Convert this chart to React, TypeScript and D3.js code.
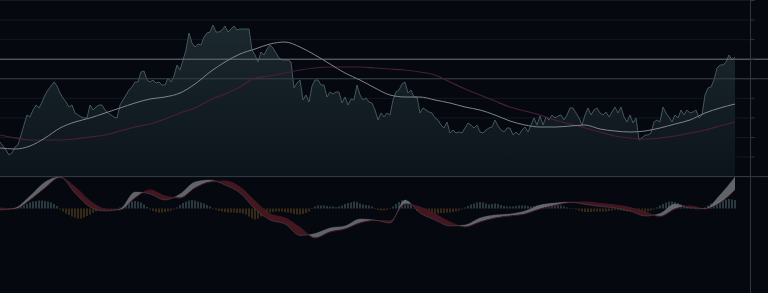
import React from 'react';
import * as d3 from 'd3';

const W = 768;
const H = 293;
const X_END = 735;
const AXIS_X = 750.5;

// daily close prices (one value per session)
const price = [
  129,127,125,122.5,123.5,126.5,127.5,132.5,137.5,142.5,
  141.5,145,147.5,146,149,152.5,155,157,159,157,
  153.5,151,149,146.5,147.5,143.5,142.5,141.5,141,141,
  147.5,145,146.5,147.5,147.5,145,143.5,142.5,141.5,141,
  147.5,150,152.5,155,156.5,159,159,164,164.5,160,
  159,160,158.5,159,157.5,157.5,161,159,162,167.5,
  165,170,175,183.5,178.5,176.5,178,177.5,181.5,183.5,
  184,187.5,184,184,185,187,184,185.5,187,185,
  185.5,185.5,185.5,185.5,175,172.5,169,174,172.5,175.5,
  177.5,176,173.5,171,170,170,170,169,156,158.5,
  160,150,152.5,149,157,160,160,157.5,157.5,151.5,
  154,153,154,154,148.5,151.5,147.5,150.5,150,157.5,
  152.5,150,151,149,148.5,145,140,143.5,141.5,143.5,
  142.5,150,154,155,158,159,153.5,155,151.5,151.5,
  143.5,146,145,144,143.5,141,140,137.5,136,139,
  133.5,135,133.5,134,133.5,136,138.5,137.5,136,137.5,
  134,133.5,135,136,136.5,140,137,135,134,136,
  136,132.5,134,132.5,135,136.5,134,137.5,141,137.5,
  142,137.5,141.5,140,142.5,141,142,142.5,140,142.5,
  146,146,143.5,141,137.5,142.5,146,142.5,145,146,
  143.5,142.5,144,141.5,144,146.5,143.5,146.5,141.5,139,
  142.5,138.5,141,130,131,132.5,132.5,133.5,139,140,
  139,146.5,143.5,141.5,139,142.5,141,145,142.5,145,
  143.5,144,145,141,142.5,152.5,156,156.5,160,166,
  167.5,167.5,169,172.5,170,171.5,
];

// indicator series sampled every SAMPLE_STEP sessions
const SAMPLE_STEP = 5;
const maFast = [
  126,125.5,127,131,136,139,141,143.5,146,148.5,
  150.5,151.5,153.5,158,164,169,173,175.5,178,179,
  176.5,172.5,168,163.5,160,156,152.5,151.5,151.5,150,
  148.5,146.5,145,142.5,139.5,137.5,136.5,136.5,137,137.5,
  135.5,134.5,134,134.5,136,138,140,143.5,146,148,
];
const maSlow = [
  132.5,131,130,130,130,130.5,131.5,132.5,134.5,136.5,
  138,140.5,143.5,146,150,153,156.5,161,162,163.5,
  165,166,166.5,166.5,166.5,166,165.5,165,164,162.5,
  159,155.5,152.5,149.5,146.5,144.5,142.5,140,138,136,
  134,132,131,130.5,131,132,133.5,135,137,139,
];
const macd = [
  -0.15,0.05,1.25,2.65,3.15,1.55,0.15,-0.25,-0.05,1.65,
  1.45,0.85,1.45,2.65,2.85,2.35,1.55,-0.05,-1.15,-1.55,
  -2.7,-2.5,-1.95,-1.75,-1.05,-1.15,-1.45,0.85,-0.45,-1.15,
  -1.75,-1.65,-0.95,-0.65,-0.55,-0.25,0.35,0.55,0.65,0.4,
  0.2,0.05,-0.25,-0.75,-0.5,0.45,0.05,0,1.35,3.15,
];
const signal = [
  0.05,-0.05,0.85,2.05,3.1,2.15,0.75,-0.05,-0.15,1.05,
  1.85,1.25,1.05,2.05,2.65,2.75,2.15,0.75,-0.55,-0.95,
  -1.9,-2.95,-2.35,-2.05,-1.45,-1.2,-1.25,0.45,0.15,-0.55,
  -1.35,-1.85,-1.35,-0.95,-0.75,-0.55,-0.05,0.3,0.6,0.65,
  0.5,0.35,0.1,-0.35,-0.8,-0.05,0.25,-0.05,0.55,1.85,
];
// MACD histogram, one bar per session
const hist = [
  -0.1,-0.1,-0.1,-0.1,-0.05,0.05,0.1,0.2,0.3,0.45,
  0.6,0.7,0.75,0.8,0.8,0.75,0.7,0.6,0.45,0.25,
  -0.1,-0.3,-0.5,-0.65,-0.8,-0.9,-1.0,-1.0,-0.9,-0.75,
  -0.6,-0.45,-0.3,-0.2,-0.15,-0.1,-0.1,-0.1,-0.1,-0.05,
  0.1,0.2,0.4,0.55,0.7,0.75,0.7,0.6,0.4,0.15,
  -0.1,-0.25,-0.35,-0.4,-0.4,-0.35,-0.3,-0.2,-0.1,0.1,
  0.35,0.55,0.7,0.8,0.85,0.8,0.7,0.6,0.5,0.35,
  0.2,0.05,-0.15,-0.25,-0.3,-0.35,-0.4,-0.4,-0.4,-0.45,
  -0.45,-0.5,-0.6,-0.8,-1.0,-1.1,-1.0,-0.8,-0.6,-0.5,
  -0.4,-0.35,-0.3,-0.3,-0.3,-0.35,-0.4,-0.45,-0.55,-0.6,
  -0.6,-0.55,-0.45,-0.3,0.05,0.2,0.3,0.3,0.3,0.25,
  0.2,0.2,0.15,0.2,0.3,0.45,0.55,0.6,0.7,0.65,
  0.5,0.4,0.35,0.3,0.2,0.05,-0.15,-0.2,-0.2,-0.15,
  -0.05,0.2,0.45,0.65,0.8,0.85,0.7,0.4,-0.05,-0.25,
  -0.35,-0.4,-0.45,-0.5,-0.5,-0.5,-0.5,-0.45,-0.45,-0.4,
  -0.4,-0.35,-0.3,-0.2,-0.1,0.1,0.25,0.4,0.5,0.6,
  0.65,0.6,0.5,0.4,0.45,0.5,0.45,0.35,0.25,0.2,
  0.2,0.2,0.25,0.3,0.3,0.3,0.25,0.2,0.25,0.3,
  0.35,0.4,0.4,0.35,0.3,0.3,0.35,0.3,0.2,0.1,
  0.05,-0.05,-0.1,-0.2,-0.3,-0.35,-0.35,-0.35,-0.3,-0.3,
  -0.3,-0.3,-0.3,-0.25,-0.2,-0.15,-0.15,-0.2,-0.25,-0.3,
  -0.3,-0.3,-0.35,-0.4,-0.4,-0.35,-0.3,-0.2,-0.1,0.1,
  0.3,0.45,0.6,0.7,0.7,0.65,0.55,0.4,0.3,0.15,
  0.05,-0.05,-0.1,-0.1,-0.05,0.1,0.3,0.5,0.65,0.75,
  0.85,0.9,0.9,0.95,0.9,0.85,
];

// price gridline levels (unlabelled)
const gridValues = [199.75,189.97,180.18,170.4,160.61,150.83,141.04,131.26,121.47,111.7];
const brightLevel = 170.4;
const midLevel = 160.61;
const PRICE_DOMAIN: [number, number] = [111.7, 199.75];
const MACD_DOMAIN: [number, number] = [-1, 1];

const C = {
  bg: '#05090f',
  grid: '#131922',
  gridBright: '#6e737b',
  gridMid: '#393f49',
  separator: '#353b44',
  axis: '#30363f',
  priceLine: '#43575d',
  maFast: '#7f848a',
  maSlow: '#4a1f36',
  bandUp: '#6f747a',
  bandDown: '#441620',
  histUp: '#435a60',
  histDown: '#5a3f1e',
};

export default function App() {
  const n = price.length;
  const x = d3.scaleLinear().domain([0, n - 1]).range([0, X_END]);
  const yP = d3.scaleLinear().domain(PRICE_DOMAIN).range([176.6, 0.5]);
  const yM = d3.scaleLinear().domain(MACD_DOMAIN).range([218.5, 198.5]);
  const base = yP(PRICE_DOMAIN[0]);

  const area = d3.area<number>().x((_, i) => x(i)).y0(base).y1((d) => yP(d));
  const line = d3.line<number>().x((_, i) => x(i)).y((d) => yP(d));
  const maLine = d3.line<number>().x((_, i) => x(i * SAMPLE_STEP)).y((d) => yP(d)).curve(d3.curveMonotoneX);
  const mLine = d3.line<number>().x((_, i) => x(i * SAMPLE_STEP)).y((d) => yM(d)).curve(d3.curveMonotoneX);
  const band = d3.area<number>()
    .x((_, i) => x(i * SAMPLE_STEP))
    .y0((_, i) => yM(signal[i]))
    .y1((d) => yM(d))
    .curve(d3.curveMonotoneX);
  const toTop = d3.area<number>().x((_, i) => x(i * SAMPLE_STEP)).y0(0).y1((d) => yM(d)).curve(d3.curveMonotoneX);
  const toBottom = d3.area<number>().x((_, i) => x(i * SAMPLE_STEP)).y0(H).y1((d) => yM(d)).curve(d3.curveMonotoneX);

  const zeroY = yM(0);

  return (
    <svg width={W} height={H} style={{ position: 'absolute', left: 0, top: 0, display: 'block', background: C.bg }}>
      <defs>
        <linearGradient id="pfill" gradientUnits="userSpaceOnUse" x1="0" y1="20" x2="0" y2="177">
          <stop offset="0" stopColor="#1c292f" />
          <stop offset="1" stopColor="#0b141a" />
        </linearGradient>
        <clipPath id="aboveSig">
          <path d={toTop(signal) || ''} />
        </clipPath>
        <clipPath id="belowSig">
          <path d={toBottom(signal) || ''} />
        </clipPath>
      </defs>
      <rect x={0} y={0} width={W} height={H} fill={C.bg} />

      {gridValues.map((v) => (
        <line key={'g' + v} x1={0} x2={AXIS_X} y1={yP(v)} y2={yP(v)} stroke={C.grid} strokeWidth={1} />
      ))}

      <path d={area(price) || ''} fill="url(#pfill)" />
      <path d={line(price) || ''} fill="none" stroke={C.priceLine} strokeWidth={1} />

      <line x1={0} x2={W} y1={yP(brightLevel)} y2={yP(brightLevel)} stroke={C.gridBright} strokeWidth={1} />
      <line x1={0} x2={W} y1={yP(midLevel)} y2={yP(midLevel)} stroke={C.gridMid} strokeWidth={1} />
      <line x1={0} x2={W} y1={yP(PRICE_DOMAIN[0])} y2={yP(PRICE_DOMAIN[0])} stroke={C.separator} strokeWidth={1} />

      <path d={maLine(maSlow) || ''} fill="none" stroke={C.maSlow} strokeWidth={1.2} />
      <path d={maLine(maFast) || ''} fill="none" stroke={C.maFast} strokeWidth={1} />

      {/* MACD panel */}
      {hist.map((h, i) => (
        <rect
          key={'h' + i}
          x={x(i) - 0.6}
          width={1.2}
          y={Math.min(yM(h), zeroY)}
          height={Math.abs(yM(h) - zeroY)}
          fill={h >= 0 ? C.histUp : C.histDown}
        />
      ))}
      <path d={band(macd) || ''} fill={C.bandUp} opacity={0.85} clipPath="url(#aboveSig)" />
      <path d={band(macd) || ''} fill={C.bandDown} clipPath="url(#belowSig)" />
      <path d={mLine(signal) || ''} fill="none" stroke={C.bandDown} strokeWidth={1} />
      <path d={mLine(macd) || ''} fill="none" stroke={C.bandUp} strokeOpacity={0.4} strokeWidth={0.8} />

      {/* right axis */}
      <line x1={AXIS_X} x2={AXIS_X} y1={0} y2={H} stroke={C.axis} strokeWidth={1} />
      {gridValues.map((v) => (
        <line key={'t' + v} x1={AXIS_X} x2={AXIS_X + 4} y1={yP(v)} y2={yP(v)} stroke={C.axis} strokeWidth={1} />
      ))}
    </svg>
  );
}
